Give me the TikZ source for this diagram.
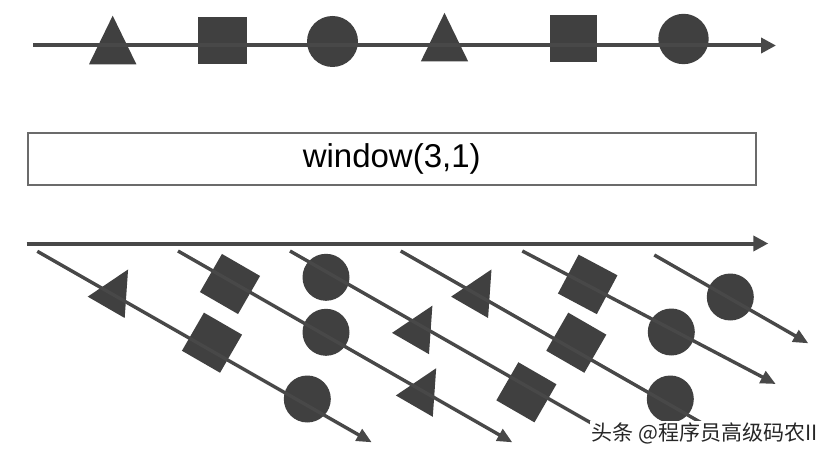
\documentclass[tikz,border=0pt]{standalone}
\usepackage{fontspec}
\setmainfont{Liberation Sans}
\newfontfamily\cjkfont{Noto Sans CJK SC}
\usetikzlibrary{arrows.meta}
\definecolor{shpc}{HTML}{404040}
\definecolor{lnc}{HTML}{484848}
\definecolor{bxc}{HTML}{6B6B6B}
\tikzset{
  flow/.style={draw=lnc, line width=4pt, -{Triangle[length=15pt,width=15pt]}},
  slide/.style={draw=lnc, line width=3.4pt, -{Triangle[length=15pt,width=13pt]}},
  ball/.style={circle, fill=shpc, inner sep=0pt, outer sep=0pt},
  box/.style={rectangle, fill=shpc, inner sep=0pt, outer sep=0pt},
}
% triangle centred on its centroid: x, y, rotation, scale
\newcommand\mytri[4]{\fill[shpc,shift={(#1,#2)},rotate=#3,scale=#4] (0,-32.4)--(-23.7,16.2)--(23.7,16.2)--cycle;}
\begin{document}
\begin{tikzpicture}[x=1pt,y=-1pt]
\useasboundingbox (0,0) rectangle (835,457);
\fill[white] (0,0) rectangle (835,457);

% ---------- top stream ----------
\coordinate (ts) at (33,45.5);
\coordinate (te) at (776,45.5);
\mytri{112.7}{48.1}{0}{1}
\node[box, minimum width=49pt, minimum height=47pt] (s1) at (222.5,40.8) {};
\node[ball, minimum size=51pt] (c1) at (332.5,41.5) {};
\mytri{444.5}{45.3}{0}{1}
\node[box, minimum width=47.6pt, minimum height=47pt] (s2) at (573.5,38.5) {};
\node[ball, minimum size=50.4pt] (c2) at (683.5,39) {};
\draw[flow] (ts) -- (te);

% ---------- window operator ----------
\node[draw=bxc, line width=2pt, minimum width=728.5pt, minimum height=51.7pt,
      inner sep=0pt, font=\fontsize{33}{33}\selectfont] (win) at (391.75,159.15) {window(3,1)};

% ---------- output stream ----------
\coordinate (bs) at (26.7,243.5);
\coordinate (be) at (768.3,243.5);
\draw[flow] (bs) -- (be);

% window line starts and ends
\coordinate (a1) at (37.3,251.3);  \coordinate (b1) at (371.7,442.3);
\coordinate (a2) at (178,251);     \coordinate (b2) at (512.3,442.3);
\coordinate (a3) at (290,251);     \coordinate (b3) at (624.4,442);
\coordinate (a4) at (400.7,251);   \coordinate (b4) at (735,442);
\coordinate (a5) at (522.3,251);   \coordinate (b5) at (775.7,384);
\coordinate (a6) at (654.3,255);   \coordinate (b6) at (808.3,343.3);

% window 1: T S C
\mytri{113.5}{294.7}{-30}{0.9}
\node[box, minimum size=44pt, rotate=-30] (w1s) at (212,342.7) {};
\node[ball, minimum size=47pt] (w1c) at (307.3,399) {};
% window 2: S C T
\node[box, minimum size=44pt, rotate=-30] (w2s) at (230,284) {};
\node[ball, minimum size=47pt] (w2c) at (326,332.3) {};
\mytri{421.6}{393.5}{-30}{0.9}
% window 3: C T S
\node[ball, minimum size=47pt] (w3c) at (326,277.3) {};
\mytri{417.8}{330.9}{-30}{0.9}
\node[box, minimum size=44pt, rotate=-30] (w3s) at (526.4,392.3) {};
% window 4: T S C
\mytri{476.9}{294.7}{-30}{0.9}
\node[box, minimum size=44pt, rotate=-30] (w4s) at (576.3,342.7) {};
\node[ball, minimum size=47pt] (w4c) at (670.3,399) {};
% window 5: S C
\node[box, minimum size=44pt, rotate=-28] (w5s) at (587.7,284.4) {};
\node[ball, minimum size=47pt] (w5c) at (671.3,332) {};
% window 6: C
\node[ball, minimum size=47pt] (w6c) at (730.3,297) {};

\foreach \i in {1,...,6} { \draw[slide] (a\i) -- (b\i); }

% ---------- watermark ----------
\node[anchor=west, fill=white, inner sep=1.5pt, text=black!85,
      font=\cjkfont\fontsize{21}{21}\selectfont] (wm) at (590,433.5) {头条 @程序员高级码农II};
\end{tikzpicture}
\end{document}
